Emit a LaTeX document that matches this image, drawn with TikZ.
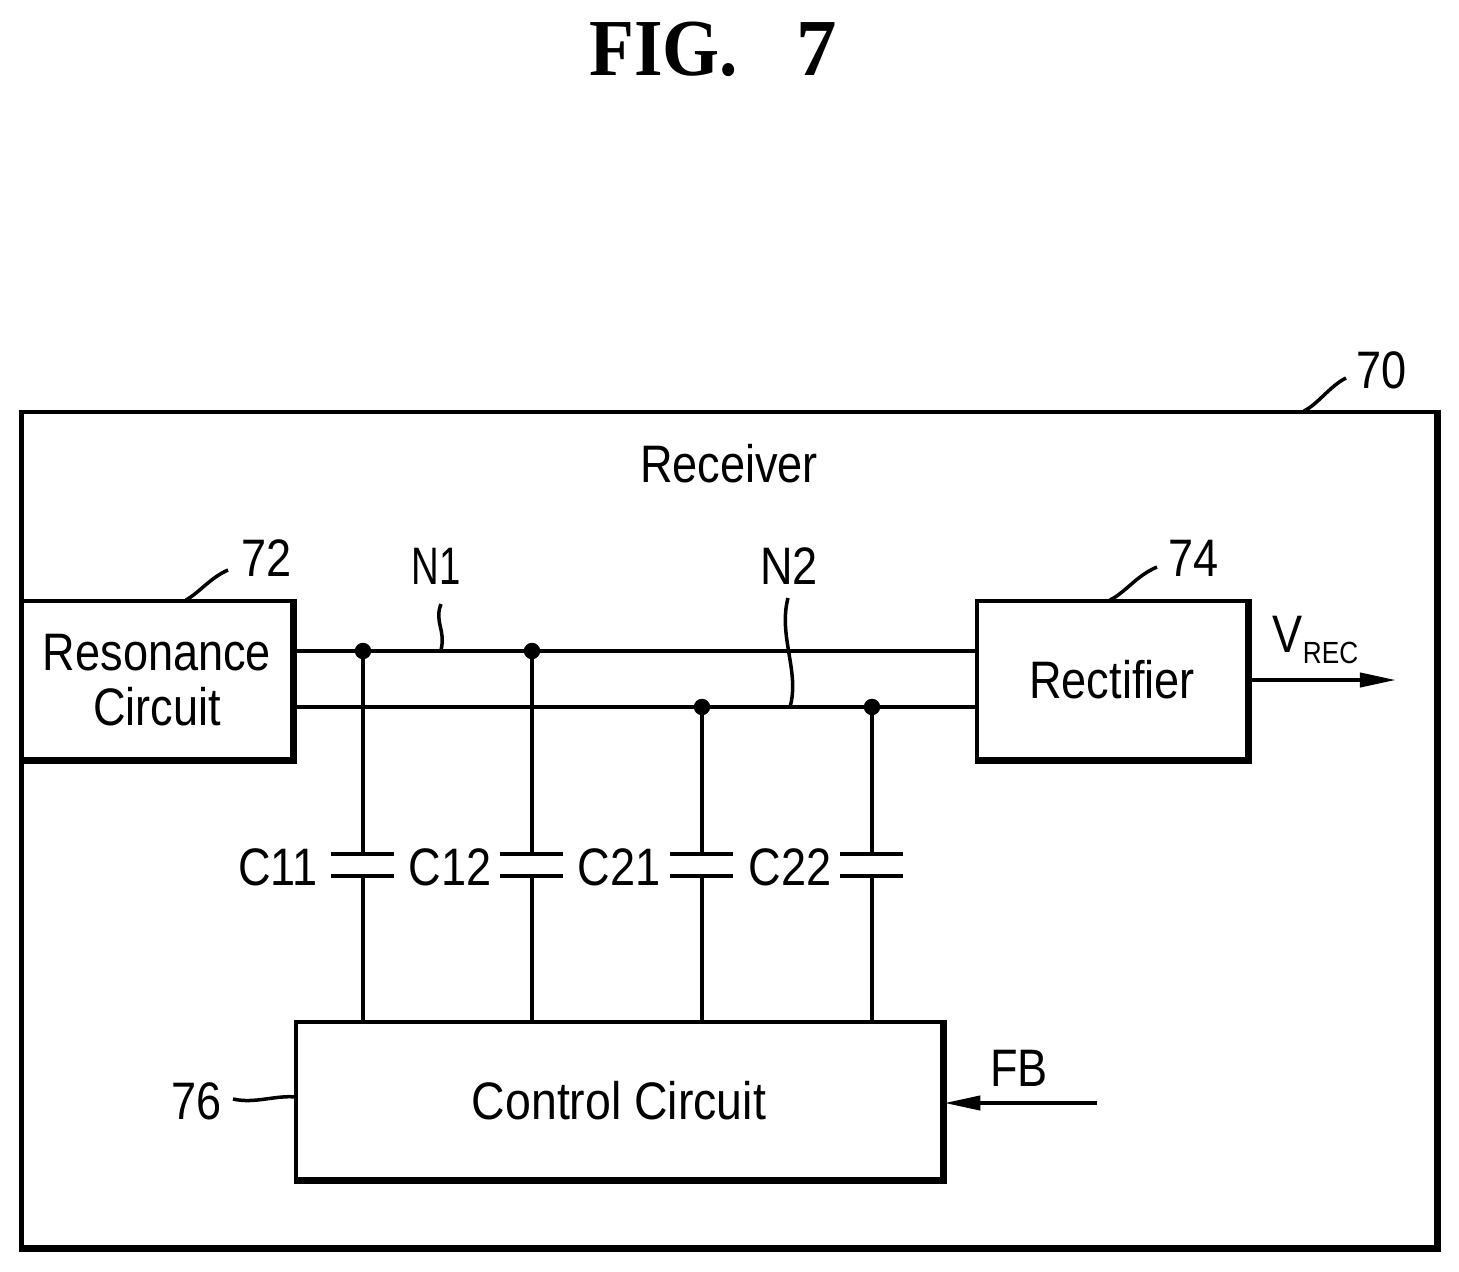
\documentclass[tikz,border=0pt]{standalone}
\usepackage{graphicx}
\usepackage{fontspec}
\setmainfont[FakeStretch=.855]{Liberation Sans}
\newfontfamily\figfont{Liberation Serif}
\usetikzlibrary{arrows.meta}
\newcommand{\lblsize}{\fontsize{15}{15.6}\selectfont}
\tikzset{
  blockbox/.style={draw, line width=.042cm, align=center, inner sep=0pt, font=\lblsize},
  heavyedge/.style={line width=.056cm},
  junction/.style={draw, circle, fill=black, inner sep=0pt, minimum size=.15cm},
  wire/.style={line width=.04cm},
  plate/.style={line width=.045cm},
  leader/.style={line width=.035cm},
  lbl/.style={inner sep=0pt, font=\lblsize},
  flow/.style={line width=.04cm, -{Triangle[length=.36cm,width=.14cm]}}
}

\begin{document}
\begin{tikzpicture}[x=.01cm,y=-.01cm]
      \useasboundingbox (0,0) rectangle (1459,1272);

      \node (Title) at (713,49) [inner sep=0pt, font=\figfont\bfseries\fontsize{23}{23}\selectfont] {\scalebox{.907}[1]{FIG.}\hspace{.72em}7};

      % blocks
      \node (Receiver) at (729,829.5) [blockbox, minimum width=14.14cm, minimum height=8.35cm] {};
      \node (Resonance) at (157,680) [blockbox, minimum width=2.70cm, minimum height=1.58cm] {Resonance\\Circuit};
      \node (Rectifier) at (1112,680) [blockbox, minimum width=2.70cm, minimum height=1.58cm] {Rectifier};
      \node (Control) at (619,1100.5) [blockbox, minimum width=6.46cm, minimum height=1.57cm] {\scalebox{1.03}[1]{Control Circuit}};

      % heavier right and bottom edges
      \foreach \name in {Receiver,Resonance,Rectifier,Control}
        \draw[heavyedge] (\name.north east) -- (\name.south east) -- (\name.south west);

      % junctions
      \node (J11) at (363,651) [junction] {};
      \node (J12) at (532,651) [junction] {};
      \node (J21) at (702,707) [junction] {};
      \node (J22) at (872,707) [junction] {};

      % capacitor plates
      \foreach \name/\xc in {C11/363,C12/532,C21/702,C22/872} {
        \coordinate (\name tl) at (\xc-32,854);
        \coordinate (\name t) at (\xc,854);
        \coordinate (\name tr) at (\xc+31,854);
        \coordinate (\name bl) at (\xc-32,876);
        \coordinate (\name b) at (\xc,876);
        \coordinate (\name br) at (\xc+31,876);
        \draw[plate] (\name tl) -- (\name tr);
        \draw[plate] (\name bl) -- (\name br);
        \draw[wire] (\name b) -- (\name b |- Control.north);
      }

      % wires
      \draw[wire] (Resonance.east |- J11) -- (J11) -- (J12) -- (Rectifier.west |- J12);
      \draw[wire] (Resonance.east |- J21) -- (J21) -- (J22) -- (Rectifier.west |- J22);
      \draw[wire] (J11) -- (C11t);
      \draw[wire] (J12) -- (C12t);
      \draw[wire] (J21) -- (C21t);
      \draw[wire] (J22) -- (C22t);

      % in and out
      \coordinate (Vout) at (1396,680);
      \coordinate (FBin) at (1097,1103);
      \draw[flow] (Rectifier.east) -- (Vout);
      \draw[flow] (FBin) -- (Control.east |- FBin);

      % labels
      \node (Lrec) at (729,464) [lbl] {Receiver};
      \node (L70) at (1382,370) [lbl] {70};
      \node (L72) at (267,558) [lbl] {72};
      \node (L74) at (1194,558) [lbl] {74};
      \node (L76) at (197,1101) [lbl] {76};
      \node (LN1) at (436,566) [lbl] {\scalebox{.85}[1]{N1}};
      \node (LN2) at (789,566) [lbl] {N2};
      \node (LC11) at (278,867) [lbl] {C11};
      \node (LC12) at (450,867) [lbl] {C12};
      \node (LC21) at (619,867) [lbl] {C21};
      \node (LC22) at (790,867) [lbl] {C22};
      \node (LFB) at (1019,1068) [lbl] {FB};
      \node (LV) at (1315.5,640) [lbl] {V\raisebox{-.4ex}{\fontsize{8.7}{9}\selectfont REC}};

      % leaders
      \coordinate (A70) at (1304,411);
      \coordinate (B70) at (1346,378);
      \coordinate (A72) at (186,600);
      \coordinate (B72) at (228,570);
      \coordinate (A74) at (1110,600);
      \coordinate (B74) at (1157,567);
      \coordinate (A76) at (296,1097);
      \coordinate (B76) at (233,1099);
      \coordinate (AN1) at (441,650);
      \coordinate (BN1) at (441,604);
      \coordinate (AN2) at (790,707);
      \coordinate (BN2) at (788,598);
      \draw[leader] (A70) .. controls (1318,404) and (1330,386) .. (B70);
      \draw[leader] (A72) .. controls (200,592) and (210,578) .. (B72);
      \draw[leader] (A74) .. controls (1126,592) and (1136,576) .. (B74);
      \draw[leader] (A76) .. controls (275,1095) and (255,1104) .. (B76);
      \draw[leader] (AN1) .. controls (446,630) and (434,622) .. (BN1);
      \draw[leader] (AN2) .. controls (800,672) and (778,636) .. (BN2);
\end{tikzpicture}
\end{document}
